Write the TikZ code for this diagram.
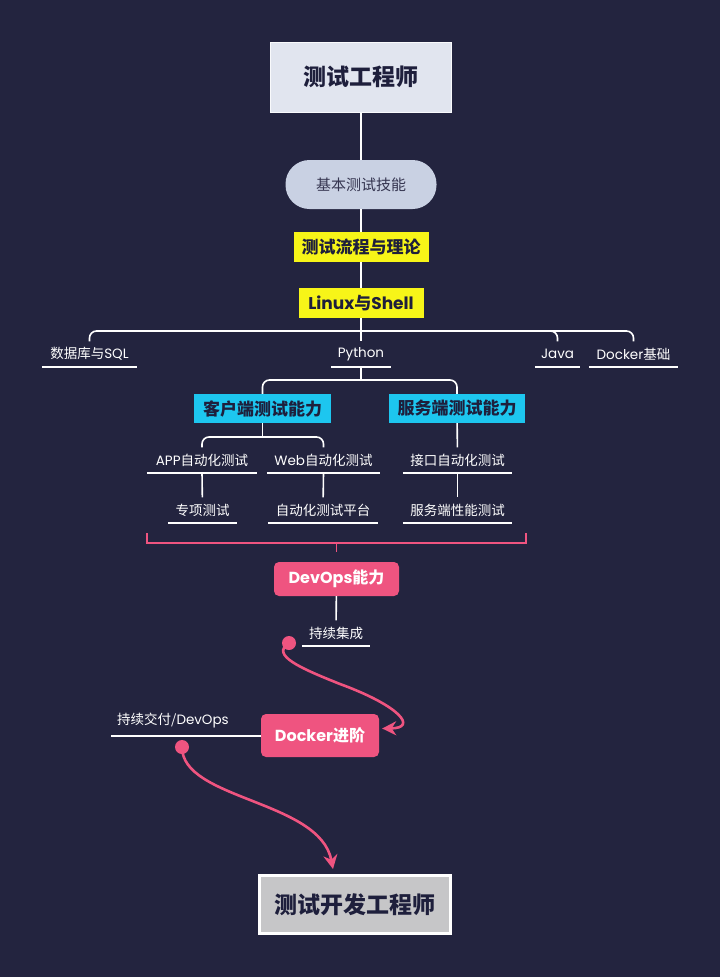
\documentclass[tikz,border=0pt]{standalone}
\usepackage{fontspec}
\setmainfont{Noto Sans CJK SC}
\newfontfamily\lat{Poppins}
\usetikzlibrary{arrows.meta,calc}

\definecolor{night}{RGB}{35,36,63}
\definecolor{ink}{RGB}{30,31,60}
\definecolor{paleblue}{RGB}{225,229,239}
\definecolor{pillblue}{RGB}{201,209,227}
\definecolor{lemon}{RGB}{247,245,24}
\definecolor{skyc}{RGB}{29,198,239}
\definecolor{rose}{RGB}{239,84,128}
\definecolor{silver}{RGB}{198,198,200}

\tikzset{
  wire/.style={white, line width=1.6pt},
  uline/.style={white, line width=1.6pt},
  leaf/.style={text=white, font=\fontsize{13.5}{13.5}\selectfont,
    minimum height=25pt, inner sep=0pt, minimum width=#1},
  tagbox/.style={fill=lemon, text=ink, font=\bfseries\fontsize{17}{17}\selectfont,
    minimum height=30pt, minimum width=#1, inner sep=0pt},
  skybox/.style={fill=skyc, text=ink, font=\bfseries\fontsize{17}{17}\selectfont,
    minimum height=29pt, minimum width=#1, inner sep=0pt},
  rosebox/.style={fill=rose, text=white, rounded corners=5pt,
    font=\bfseries\fontsize{16}{16}\selectfont,
    minimum width=#1, inner sep=0pt},
  hop/.style={rose, line width=2.6pt, -{Stealth[length=14pt,width=14pt]}},
  dot/.style={fill=rose, circle, inner sep=0pt, minimum size=14pt}
}

\begin{document}
\begin{tikzpicture}[x=1pt,y=-1pt]
  \def\Xm{361}; % main axis
  \fill[night] (0,0) rectangle (720,977);

  % top part
  \node[fill=paleblue, draw=white!80!paleblue, line width=1pt, text=ink,
    font=\bfseries\fontsize{23}{23}\selectfont,
    minimum width=181pt, minimum height=70pt, inner sep=0pt] (tester) at (\Xm,77) {测试工程师};
  \node[fill=pillblue, text=ink!90!white, rounded corners=24pt,
    font=\fontsize{15}{15}\selectfont,
    minimum width=151pt, minimum height=49pt, inner sep=0pt] (basic) at (\Xm,184.5) {基本测试技能};
  \node[tagbox=135pt] (flow) at (\Xm,247) {测试流程与理论};
  \node[tagbox=125pt] (linux) at (\Xm,303) {{\lat Linux}与{\lat Shell}};

  \draw[wire] (tester) -- (basic);
  \draw[wire] (basic) -- (flow);
  \draw[wire] (flow) -- (linux);

  % languages
  \coordinate (hubA) at (\Xm,331);
  \node[leaf=95pt]  (sql)   at (89.5,354)  {数据库与{\lat SQL}};
  \node[leaf=60pt]  (py)    at (\Xm,354)   {\lat Python};
  \node[leaf=45pt]  (java)  at (557.5,354) {\lat Java};
  \node[leaf=89pt]  (dockb) at (633.5,354) {{\lat Docker}基础};
  \draw[wire] (linux) -- (py);
  \draw[wire, rounded corners=7pt] (sql.north) |- (hubA) -| (dockb.north);
  \draw[wire, rounded corners=7pt] (hubA) -| (java.north);

  % client / server
  \coordinate (hubB) at (\Xm,380);
  \node[skybox=137pt] (client) at (262.5,408.5) {客户端测试能力};
  \node[skybox=136pt] (server) at (457,408.5)   {服务端测试能力};
  \draw[wire] (py.south) -- (hubB);
  \draw[wire, rounded corners=7pt] (client.north) |- (hubB) -| (server.north);

  \coordinate (hubC) at (262.5,437);
  \node[leaf=110pt] (app)  at (202,460)   {{\lat APP}自动化测试};
  \node[leaf=113pt] (web)  at (323.5,460) {{\lat Web}自动化测试};
  \node[leaf=109pt] (api)  at (457.5,460) {接口自动化测试};
  \node[leaf=69pt]  (spec) at (202.5,510) {专项测试};
  \node[leaf=110pt] (plat) at (323,510)   {自动化测试平台};
  \node[leaf=109pt] (perf) at (457.5,510) {服务端性能测试};
  \draw[wire] (client) -- (hubC);
  \draw[wire, rounded corners=7pt] (app.north) |- (hubC) -| (web.north);
  \draw[wire] (server) -- (api);
  \draw[wire] (app.south) -- (spec);
  \draw[wire] (web.south) -- (plat);
  \draw[wire] (api.south) -- (perf);

  % underlines
  \foreach \n in {sql,py,java,dockb,app,web,api,spec,plat,perf}
    \draw[uline] (\n.south west) -- (\n.south east);

  % devops bracket
  \coordinate (brL) at (147,533);
  \coordinate (brR) at (526,533);
  \coordinate (brM) at (336.5,543);
  \draw[rose, line width=1.2pt] (brL) |- (brR |- brM) -- (brR);
  \draw[rose, line width=1.2pt] (brM) -- ++(0,9);

  \node[rosebox=125pt, minimum height=34pt] (devops) at (336.5,579) {{\lat DevOps}能力};
  \node[leaf=68pt] (ci) at (336,633) {持续集成};
  \draw[wire] (devops) -- (ci);
  \draw[uline] (ci.south west) -- (ci.south east);

  % docker
  \node[rosebox=118pt, minimum height=43pt] (dockadv) at (320,735.5) {{\lat Docker}进阶};
  \node[leaf=110pt] (cd) at (173,721) {持续交付/{\lat DevOps}};
  \coordinate (cdL) at (111,736);
  \draw[uline] (cdL) -- (dockadv.west |- cdL);

  % final
  \node[fill=silver, draw=white, line width=3pt, text=ink,
    font=\bfseries\fontsize{23}{23}\selectfont,
    minimum width=191pt, minimum height=58pt, inner sep=0pt] (devtest) at (355,904.5) {测试开发工程师};

  % hops
  \node[dot] (ciDot) at (289,643) {};
  \node[dot] (cdDot) at (182,747) {};
  \draw[hop] (ciDot.center) .. controls (270,655) and (300,668) .. (340,684)
    .. controls (400,706) and (418,728) .. ($(dockadv.east)+(3,-7)$);
  \draw[hop] (cdDot.center) .. controls (182,800) and (320,800) .. ($(devtest.north)+(-22,-5)$);
\end{tikzpicture}
\end{document}
